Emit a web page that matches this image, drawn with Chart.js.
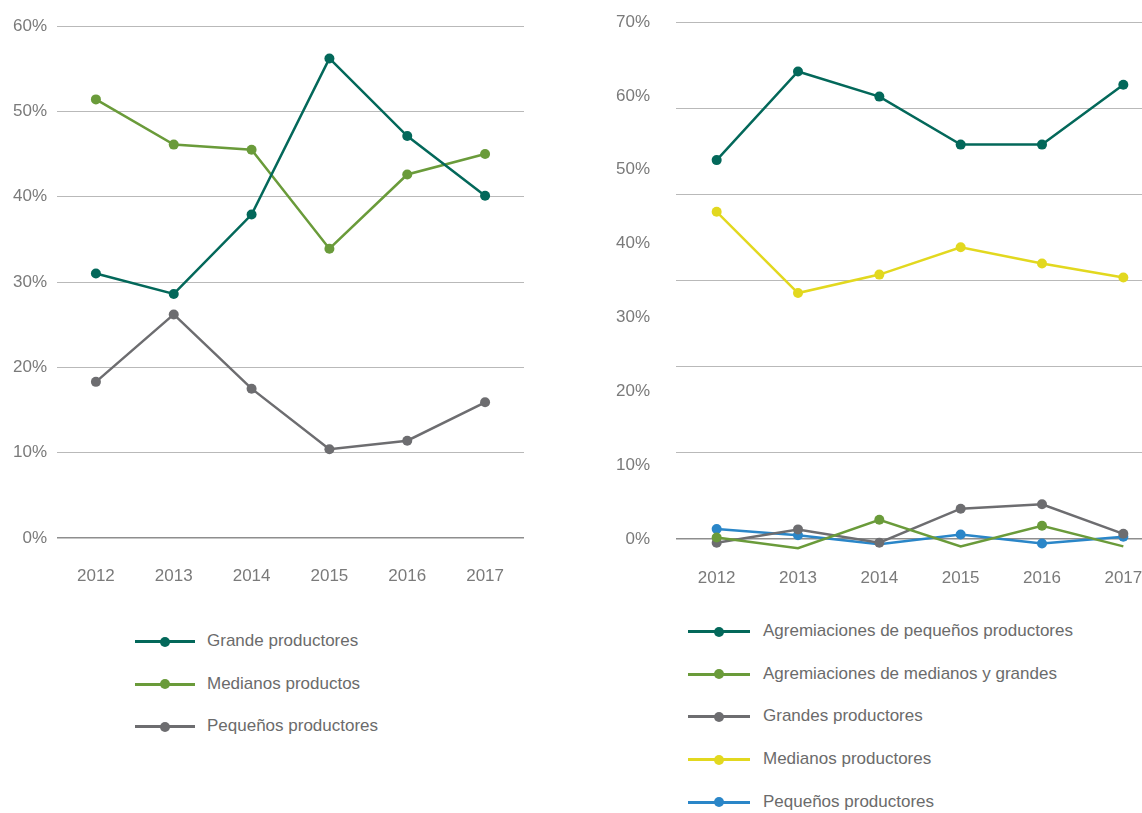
<!DOCTYPE html>
<html>
<head>
<meta charset="utf-8">
<script src="https://cdn.jsdelivr.net/npm/chart.js@4"></script>
<style>
  html, body { margin: 0; padding: 0; background: #fff; overflow: hidden; width: 1142px; height: 813px; }
  body { position: relative; font-family: "Liberation Sans", Arial, sans-serif; }
  .box { position: absolute; }
  .legend { position: absolute; }
  .legend .item { position: absolute; height: 20px; white-space: nowrap; }
  .legend .ln { position: absolute; top: 9px; height: 3px; }
  .legend .dot { position: absolute; top: 5.5px; width: 10px; height: 10px; border-radius: 50%; }
  .legend .txt { position: absolute; top: 0; font-size: 17px; line-height: 20px; color: #6b6b6b; }
</style>
</head>
<body>
<div class="box" style="left:0;top:0;width:540px;height:600px"><canvas id="chartLeft"></canvas></div>
<div class="box" style="left:600px;top:0;width:580px;height:600px"><canvas id="chartRight"></canvas></div>
<div class="legend" id="legendLeft"></div>
<div class="legend" id="legendRight"></div>

<script>
// Datos
const years = ['2012', '2013', '2014', '2015', '2016', '2017'];

const leftGrandes = [31.0, 28.6, 37.9, 56.2, 47.1, 40.1];
const leftMedianos = [51.4, 46.1, 45.5, 33.9, 42.6, 45.0];
const leftPequenos = [18.3, 26.2, 17.5, 10.4, 11.4, 15.9];

const rightAgrePequenos = [51.3, 63.3, 59.9, 53.4, 53.4, 61.5];
const rightAgreMedGrandes = [0.2, -1.25, 2.6, -1.0, 1.8, -1.0];
const rightGrandes = [-0.5, 1.3, -0.5, 4.1, 4.7, 0.7];
const rightMedianos = [44.3, 33.3, 35.8, 39.5, 37.3, 35.4];
const rightPequenos = [1.35, 0.5, -0.7, 0.6, -0.6, 0.3];

const leftTicks = [0, 10, 20, 30, 40, 50, 60];
const rightTicks = [0, 10, 20, 30, 40, 50, 60, 70];
// en el gráfico derecho las líneas de guía no coinciden con las etiquetas (6 intervalos)
const rightGridTicks = [0, 10, 20, 30, 40, 50, 60];

const C = {
    teal: '#03685a',
    green: '#6a9b3a',
    gray: '#6d6d70',
    yellow: '#e2d81f',
    blue: '#2a86c8'
};

function ds(label, data, color) {
    return {
        label: label, data: data,
        borderColor: color, backgroundColor: color,
        borderWidth: 2.5, pointRadius: 5, pointHoverRadius: 5,
        pointBorderWidth: 0, tension: 0, clip: false
    };
}

const gridColor = c => c.tick && c.tick.value === 0 ? '#8e8e8e' : '#b9b9b9';
const gridWidth = c => c.tick && c.tick.value === 0 ? 1.6 : 1;
const font = { family: 'Liberation Sans', size: 17 };

// Opciones comunes
function makeChart(id, datasets, tickList, gridList, opts) {
    const scales = {
        x: {
            offset: true,
            grid: { display: false },
            border: { display: false },
            ticks: { color: '#7a7a7a', font: font, padding: opts.xPad, maxRotation: 0, autoSkip: false },
            afterFit: s => { s.height = opts.xHeight; }
        },
        y: {
            min: 0, max: tickList[tickList.length - 1],
            afterBuildTicks: s => { s.ticks = tickList.map(v => ({ value: v })); },
            grid: { display: !gridList, color: gridColor, lineWidth: gridWidth, drawTicks: false },
            border: { display: false },
            ticks: { color: '#7a7a7a', font: font, padding: opts.yPad, callback: v => v + '%' },
            afterFit: s => { s.width = opts.yWidth; s.paddingTop = 0; s.paddingBottom = 0; }
        }
    };
    if (gridList) {
        scales.yGrid = {
            position: 'left',
            min: 0, max: gridList[gridList.length - 1],
            afterBuildTicks: s => { s.ticks = gridList.map(v => ({ value: v })); },
            grid: { color: gridColor, lineWidth: gridWidth, drawTicks: false },
            border: { display: false },
            ticks: { display: false },
            afterFit: s => { s.width = 0; s.paddingTop = 0; s.paddingBottom = 0; }
        };
    }
    return new Chart(document.getElementById(id), {
        type: 'line',
        data: { labels: years, datasets: datasets },
        options: {
            responsive: true,
            maintainAspectRatio: false,
            animation: false,
            plugins: { legend: { display: false }, tooltip: { enabled: false } },
            layout: { padding: { top: opts.top, right: opts.right, bottom: 0, left: 0 } },
            scales: scales
        }
    });
}

const leftChart = makeChart('chartLeft', [
    ds('Grande productores', leftGrandes, C.teal),
    ds('Medianos productos', leftMedianos, C.green),
    ds('Pequeños productores', leftPequenos, C.gray)
], leftTicks, null, { top: 26, right: 16, xHeight: 62, xPad: 20, yPad: 10, yWidth: 57 });

const rightChart = makeChart('chartRight', [
    ds('Agremiaciones de pequeños productores', rightAgrePequenos, C.teal),
    ds('Agremiaciones de medianos y grandes', rightAgreMedGrandes, C.green),
    ds('Grandes productores', rightGrandes, C.gray),
    ds('Medianos productores', rightMedianos, C.yellow),
    ds('Pequeños productores', rightPequenos, C.blue)
], rightTicks, rightGridTicks, { top: 22, right: 16, xHeight: 61, xPad: 21, yPad: 26, yWidth: 76 });

// Leyendas HTML
function renderLegend(containerId, chart, left, top, step, lineW, textX) {
    const el = document.getElementById(containerId);
    el.style.left = left + 'px';
    el.style.top = top + 'px';
    chart.data.datasets.forEach((d, i) => {
        const it = document.createElement('div');
        it.className = 'item';
        it.style.top = (i * step) + 'px';
        it.innerHTML = `
            <div class="ln" style="left:0;width:${lineW}px;background:${d.borderColor}"></div>
            <div class="dot" style="left:${lineW / 2 - 5}px;background:${d.borderColor}"></div>
            <div class="txt" style="left:${textX}px">${d.label}</div>`;
        el.appendChild(it);
    });
}

renderLegend('legendLeft', leftChart, 135, 631, 42.5, 60, 72);
renderLegend('legendRight', rightChart, 688, 621, 42.7, 62, 75);
</script>
</body>
</html>
